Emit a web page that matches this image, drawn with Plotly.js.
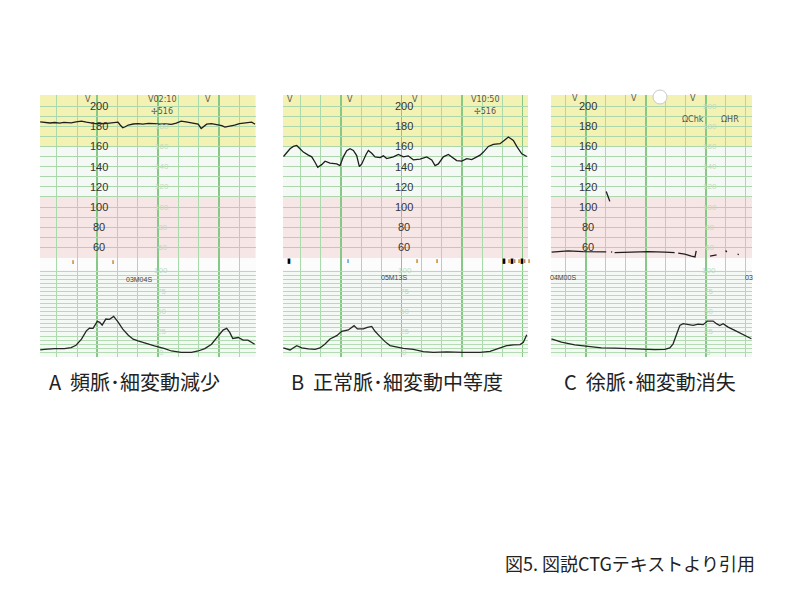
<!DOCTYPE html>
<html><head><meta charset="utf-8">
<script src="https://cdn.plot.ly/plotly-3.0.1.min.js"></script>
<style>html,body{margin:0;padding:0;background:#fff}#chart{width:800px;height:600px}</style>
</head><body><div id="chart"></div>
<script>
// ---------------- DATA (time in minutes on the strip, FHR in bpm, UC in mmHg) ----------------
const aFhrTime = [0.06,0.15,0.22,0.30,0.38,0.45,0.52,0.57,0.65,0.74,0.82,0.90,0.97,1.05,1.12,1.20,1.29,1.34,1.38,1.42,1.46,1.51,1.59,1.67,1.75,1.84,1.94,2.03,2.12,2.22,2.30,2.38,2.46,2.55,2.62,2.66,2.71,2.76,2.80,2.88,2.94,2.99,3.05,3.10,3.18,3.26,3.34,3.43,3.50,3.54,3.60];
const aFhrBpm  = [184.4,184,183.2,183.7,183,183.8,183.2,183.4,184.2,185,184,183.4,182.6,182.9,182.5,183,183.4,184,181,178.5,179.5,181.2,182.2,182.5,182,182.8,182.6,182,182.4,181.8,183,185,184.2,183.4,182.4,182,177.8,180,182,182.5,182,181.5,180.5,179.2,180,181,182.5,183.4,183.8,184,182];
const aUcTime  = [0.06,0.13,0.30,0.46,0.57,0.65,0.74,0.82,0.87,0.93,1.00,1.04,1.08,1.14,1.20,1.27,1.34,1.42,1.51,1.59,1.67,1.78,1.94,2.11,2.22,2.38,2.55,2.66,2.77,2.88,2.99,3.07,3.13,3.18,3.23,3.32,3.40,3.48,3.59];
const aUcVal   = [2.9,3.7,4.6,4.6,5.8,8.7,16.1,26.4,29.7,29.4,38,36.8,33.5,40.9,40.5,44.2,37.5,28.5,21,16.1,14,11.2,7.8,4.6,1.6,0,0,1.6,4.6,9.9,20.2,27.3,29.4,24.4,17,18.2,14.9,14.9,9.9];

const bFhrTime = [0.05,0.074,0.157,0.212,0.268,0.322,0.377,0.46,0.516,0.57,0.615,0.68,0.736,0.818,0.929,0.983,1.038,1.094,1.149,1.204,1.259,1.303,1.342,1.413,1.452,1.507,1.562,1.645,1.70,1.755,1.865,1.948,2.03,2.11,2.195,2.306,2.416,2.499,2.554,2.608,2.691,2.774,2.83,2.912,2.995,3.078,3.16,3.243,3.298,3.353,3.435,3.517,3.628,3.711,3.766,3.848,3.904,3.987,4.07];
const bFhrBpm  = [150,152,157.7,160,161,157.7,154.4,151.4,149.7,144.4,139.4,142,145.4,143.4,142.7,141,149.7,155.7,157.7,156,151,140,142.7,152,156,153.3,149.7,149,150.7,148,149.7,152,149.7,150.7,146.7,147.5,149.7,146.7,141,142.7,149.7,152,149.7,146,145.4,148,147,149.7,151.4,154.4,160,162,162.7,166.7,169.4,166,160,152.7,150];
const bUcTime  = [0.046,0.157,0.268,0.35,0.46,0.57,0.653,0.736,0.818,0.929,1.011,1.121,1.215,1.27,1.369,1.435,1.507,1.562,1.645,1.727,1.81,1.92,2.03,2.195,2.36,2.526,2.747,3.02,3.298,3.463,3.628,3.738,3.848,3.959,4.013,4.07];
const bUcVal   = [5.4,2.9,8.2,5.4,4.1,3.7,5.4,10.3,16.4,20.5,25.8,27.5,32.8,28.7,28.7,30.7,31.9,25.8,19.3,13.1,8.2,6.1,4.9,3.7,0.9,0,0.5,0,0,1.2,5.4,8.2,9,9.5,12.3,21.7];

const cFhrTime = [0.43,0.705,0.955,1.15,1.34,null,1.34,1.36,1.38,1.40,null,1.42,1.44,null,1.48,1.76,2.04,2.32,2.48,null,2.54,2.65,2.76,2.82,2.84,null,3.07,3.18,null,3.33,3.35,null,3.53,3.55];
const cFhrBpm  = [55.5,56.7,56,55.7,55.7,null,115.5,113,109,105.6,null,55.7,55.5,null,55,55.5,56,55.5,55,null,54.4,53.4,51.4,50.7,56.7,null,51.4,52.7,null,57,55.5,null,53.4,53];
const cUcTime  = [0.427,0.593,0.817,1.038,1.26,1.483,1.705,1.927,2.15,2.317,2.4,2.455,2.51,2.567,2.622,2.705,2.788,2.872,2.955,3.027,3.122,3.177,3.233,3.288,3.372,3.483,3.622,3.76];
const cUcVal   = [16.6,12.4,9.2,7.1,5.5,5,4.2,3.7,3.3,3.7,5.5,10.4,22.8,33,35.2,34,33,34.6,34,38.4,38.4,35.2,33,35.2,31,26.9,21.9,16.6];

const fhrLabels = [200,180,160,140,120,100,80,60];
const ucLabels  = [100,75,50,25,0];
const captions  = ['A\u00a0\u00a0頻脈･細変動減少','B\u00a0\u00a0正常脈･細変動中等度','C\u00a0\u00a0徐脈･細変動消失'];
const sourceNote = '図5. 図説CTGテキストより引用';

// ---------------- LAYOUT ----------------
const W=800,H=600, SEC=60;            // axis unit: seconds (thin line = 20 s, thick = 60 s)
const PX=x=>x/W, PY=y=>1-y/H;
const toSec=a=>a.map(t=>t===null?null:t*SEC);
const FHR_TOP=95, MID=258, UC_BOT=357;
const FHR_RANGE=[49.6,210.9], UC_RANGE=[-5.8,116];

const panels=[
 {left:40,  right:255.5, range:[0.057,3.604], fhr:[aFhrTime,aFhrBpm], uc:[aUcTime,aUcVal], labelT:1, faintFhrT:2, faintSkip:[200], faintUcT:2,
  capX:47, marks:[['V',88,99,'center'],['V',208,99,'center'],['V02:10',146,100,'left'],['✢516',149,112,'left']],
  ucText:[['03M04S',139,279]], events:[['ı',70,262],['ı',110,262]]},
 {left:283, right:528,   range:[0.041,4.09],  fhr:[bFhrTime,bFhrBpm], uc:[bUcTime,bUcVal], labelT:2, faintFhrT:null, faintSkip:[], faintUcT:2,
  capX:289, marks:[['V',290,99,'center'],['V',350,99,'center'],['V',415,100,'center'],['V10:50',469,99,'left'],['✢516',472,111,'left']],
  ucText:[['05M13S',394,277]], events:[['▮',285,261],['ı',345,261],['ı',414,261],['ı',434,261],['▮ ı▮ı ı▮ı ı',500,261]]},
 {left:551, right:752,   range:[0.42,3.77],   fhr:[cFhrTime,cFhrBpm], uc:[cUcTime,cUcVal], labelT:1, faintFhrT:3, faintSkip:[], faintUcT:3,
  capX:562, marks:[['V',575,98,'center'],['V',634,98,'center'],['V',693,98,'center'],['ΩChk',680,119,'left'],['ΩHR',719,119,'left']],
  ucText:[['04M00S',563,277],['03',749,277]], events:[]}
];

const ucGrid=[]; for(let v=0; v<=100; v+=5) ucGrid.push(v);

const layout={width:800,height:600,margin:{l:0,r:0,t:0,b:0},paper_bgcolor:'#ffffff',plot_bgcolor:'#f5f9f6',
  showlegend:false,shapes:[],annotations:[]};
const data=[];
const numFont={family:'Liberation Sans, Arial, sans-serif',size:11,color:'#333'};
const faintFont={family:'Liberation Sans, Arial, sans-serif',size:8,color:'#bcdcbc'};

panels.forEach((p,i)=>{
  const nF=i*2+1, nU=i*2+2;
  const xs=n=>n===1?'':String(n);
  [nF,nU].forEach(n=>{
    layout['xaxis'+xs(n)]={domain:[PX(p.left),PX(p.right)],range:[p.range[0]*SEC,p.range[1]*SEC],anchor:'y'+xs(n),
      showticklabels:false,ticks:'',zeroline:false,showline:false,fixedrange:true,
      tick0:0,dtick:60,showgrid:true,gridcolor:'#86c986',gridwidth:1.6,
      minor:{tick0:0,dtick:20,showgrid:true,gridcolor:'#a9daa9',gridwidth:1}};
  });
  layout['yaxis'+xs(nF)]={domain:[PY(MID),PY(FHR_TOP)],range:FHR_RANGE,anchor:'x'+xs(nF),
    showticklabels:false,ticks:'',zeroline:false,fixedrange:true,tick0:0,dtick:10,showgrid:true,gridcolor:'#acd7ad',gridwidth:1};
  layout['yaxis'+xs(nU)]={domain:[PY(UC_BOT),PY(MID)],range:UC_RANGE,anchor:'x'+xs(nU),
    showticklabels:false,ticks:'',zeroline:false,fixedrange:true,tickmode:'array',tickvals:ucGrid,showgrid:true,gridcolor:'#b3dcb3',gridwidth:1};

  // paper colour bands
  layout.shapes.push({type:'rect',layer:'below',xref:'x'+xs(nF)+' domain',yref:'y'+xs(nF),x0:0,x1:1,y0:160,y1:FHR_RANGE[1],fillcolor:'#f3f2b3',line:{width:0}});
  layout.shapes.push({type:'rect',layer:'below',xref:'x'+xs(nF)+' domain',yref:'y'+xs(nF),x0:0,x1:1,y0:FHR_RANGE[0],y1:110,fillcolor:'#f7e6e6',line:{width:0}});
  layout.shapes.push({type:'rect',layer:'below',xref:'x'+xs(nU)+' domain',yref:'y'+xs(nU),x0:0,x1:1,y0:101,y1:UC_RANGE[1],fillcolor:'#fbfcfb',line:{width:0}});

  data.push({type:'scatter',mode:'lines',x:toSec(p.fhr[0]),y:p.fhr[1],xaxis:'x'+xs(nF),yaxis:'y'+xs(nF),
    line:{color:'#1e1e1e',width:1.3},connectgaps:false,hoverinfo:'skip'});
  data.push({type:'scatter',mode:'lines',x:toSec(p.uc[0]),y:p.uc[1],xaxis:'x'+xs(nU),yaxis:'y'+xs(nU),
    line:{color:'#262626',width:1.3},connectgaps:false,hoverinfo:'skip'});

  fhrLabels.forEach(v=>{
    layout.annotations.push({xref:'x'+xs(nF),yref:'y'+xs(nF),x:p.labelT*SEC,y:v,text:String(v),showarrow:false,
      font:numFont,xanchor:'center',yanchor:'middle',xshift:2});
    if(p.faintFhrT!==null && p.faintSkip.indexOf(v)<0) layout.annotations.push({xref:'x'+xs(nF),yref:'y'+xs(nF),x:p.faintFhrT*SEC,y:v,text:String(v),showarrow:false,
      font:faintFont,xanchor:'center',yanchor:'middle',xshift:4});
  });
  ucLabels.forEach(v=>{
    layout.annotations.push({xref:'x'+xs(nU),yref:'y'+xs(nU),x:p.faintUcT*SEC,y:v,text:String(v),showarrow:false,
      font:faintFont,xanchor:'center',yanchor:'middle',xshift:3});
  });
  p.marks.forEach(m=>{
    layout.annotations.push({xref:'paper',yref:'paper',x:PX(m[1]),y:PY(m[2]),text:m[0],showarrow:false,
      font:{family:'DejaVu Sans, sans-serif',size:8,color:'#555'},xanchor:m[3],yanchor:'middle'});
  });
  p.ucText.forEach(m=>{
    layout.annotations.push({xref:'paper',yref:'paper',x:PX(m[1]),y:PY(m[2]),text:m[0],showarrow:false,
      font:{family:'Liberation Sans Narrow, Liberation Sans, sans-serif',size:7,color:'#444'},xanchor:'center',yanchor:'middle'});
  });
  p.events.forEach(m=>{
    layout.annotations.push({xref:'paper',yref:'paper',x:PX(m[1]),y:PY(m[2]),text:m[0],showarrow:false,
      font:{family:'DejaVu Sans, sans-serif',size:7,color:'#000'},xanchor:'left',yanchor:'middle'});
  });
  layout.annotations.push({xref:'paper',yref:'paper',x:PX(p.capX),y:PY(381),text:captions[i],showarrow:false,
    font:{family:'Noto Sans CJK JP, sans-serif',size:20,color:'#222'},xanchor:'left',yanchor:'middle'});
});

// punch hole on strip C
layout.shapes.push({type:'circle',xref:'paper',yref:'paper',x0:PX(653),x1:PX(667),y0:PY(104),y1:PY(90),fillcolor:'#ffffff',line:{color:'#c8c8c8',width:1},layer:'above'});

layout.annotations.push({xref:'paper',yref:'paper',x:PX(503),y:PY(563),text:sourceNote,showarrow:false,
  font:{family:'Noto Sans CJK JP, sans-serif',size:18,color:'#222'},xanchor:'left',yanchor:'middle'});

Plotly.newPlot('chart',data,layout,{staticPlot:true,displayModeBar:false});
</script>
</body></html>
